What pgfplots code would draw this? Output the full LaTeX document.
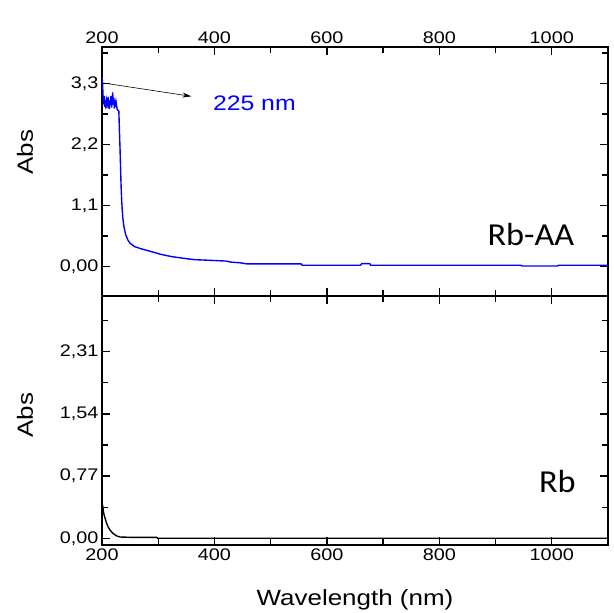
\documentclass[border=0pt]{standalone}
\usepackage{fontspec}
\setmainfont{Liberation Sans}[FakeStretch=1.18]
\newfontfamily\calib{Carlito}[FakeStretch=1.07]
\usepackage{pgfplots}
\pgfplotsset{compat=1.18}
\usetikzlibrary{arrows.meta}
\definecolor{myblue}{RGB}{0,0,255}
\pgfplotstableread{
x y
200 3.43
201 3.30
202 3.05
203 2.92
204 3.08
205 2.88
206 3.00
207 2.85
208 2.98
209 2.90
210 3.05
211 2.86
212 2.95
213 2.84
214 3.00
215 2.92
216 3.08
217 2.87
218 2.96
219 3.14
220 2.92
221 3.04
222 2.85
223 3.00
224 2.88
225 2.97
226 2.90
227 2.84
228 2.82
230 2.80
231 2.45
232 2.15
233 1.80
234 1.44
235 1.20
236 1.02
237 0.88
239 0.72
242 0.58
246 0.48
250 0.42
258 0.36
270 0.32
288 0.27
305 0.22
324 0.18
345 0.15
365 0.125
400 0.11
420 0.10
430 0.08
445 0.07
457 0.05
554 0.05
556 0.025
660 0.025
662 0.055
676 0.055
678 0.025
945 0.025
947 0.01
1010 0.01
1012 0.025
1100 0.025
}\rbaa
\pgfplotstableread{
x y
200 0.45
201 0.41
202 0.36
203 0.31
205 0.26
208 0.19
211 0.14
215 0.095
220 0.058
226 0.03
232 0.016
250 0.012
297 0.012
299 0.0
1100 0.0
}\rb
\pgfplotsset{
  myaxis/.style={
    scale only axis, width=506bp, height=249bp, anchor=south west,
    xmin=200, xmax=1100,
    xtick={200,400,600,800,1000},
    xticklabels={200,400,600,800,1000},
    minor xtick={300,500,700,900},
    tick align=inside,
    major tick length=8bp, minor tick length=6bp,
    tick style={black, line width=1.3pt},
    axis line style={line width=1.8pt},
    tick label style={font=\fontsize{16.8bp}{19bp}\selectfont, black},
    label style={font=\fontsize{22bp}{26bp}\selectfont},
    /pgf/number format/assume math mode=true,
    xtick pos=both, ytick pos=both,
  }
}
\begin{document}
\begin{tikzpicture}
\path[use as bounding box] (0,0) rectangle (614bp,613bp);
% top panel
\begin{axis}[myaxis, at={(102bp,317bp)},
  ymin=-0.53, ymax=3.96,
  ytick={0,1.1,2.2,3.3},
  yticklabels={{0,00},{1,1},{2,2},{3,3}},
  minor ytick={0.55,1.65,2.75,3.85},
  xticklabel pos=right,
  ylabel={Abs},
  ylabel style={at={(axis description cs:-0.152,0.578)}, anchor=center},
]
\addplot[myblue, line width=1.4pt] table[x=x,y=y] {\rbaa};
\draw[line width=0.6pt, -{Stealth[length=9bp,width=5bp]}] (axis cs:203,3.31) -- (axis cs:359,3.07);
\node[myblue, font=\fontsize{21bp}{24bp}\selectfont] at (axis cs:471,2.94) {225 nm};
\node[font=\calib\fontsize{32bp}{36bp}\selectfont] at (axis cs:963,0.57) {Rb-AA};
\end{axis}
% bottom panel
\begin{axis}[myaxis, at={(102bp,68bp)},
  ymin=-0.083, ymax=3.0,
  ytick={0,0.77,1.54,2.31},
  yticklabels={{0,00},{0,77},{1,54},{2,31}},
  minor ytick={0.385,1.155,1.925,2.695},
  xticklabel pos=left,
  ylabel={Abs},
  ylabel style={at={(axis description cs:-0.152,0.522)}, anchor=center},
  xlabel={Wavelength (nm)},
  xlabel style={at={(axis description cs:0.5,-0.221)}, anchor=center},
]
\addplot[black, line width=1.4pt] table[x=x,y=y] {\rb};
\node[font=\calib\fontsize{32bp}{36bp}\selectfont] at (axis cs:1010,0.70) {Rb};
\end{axis}
\end{tikzpicture}
\end{document}
